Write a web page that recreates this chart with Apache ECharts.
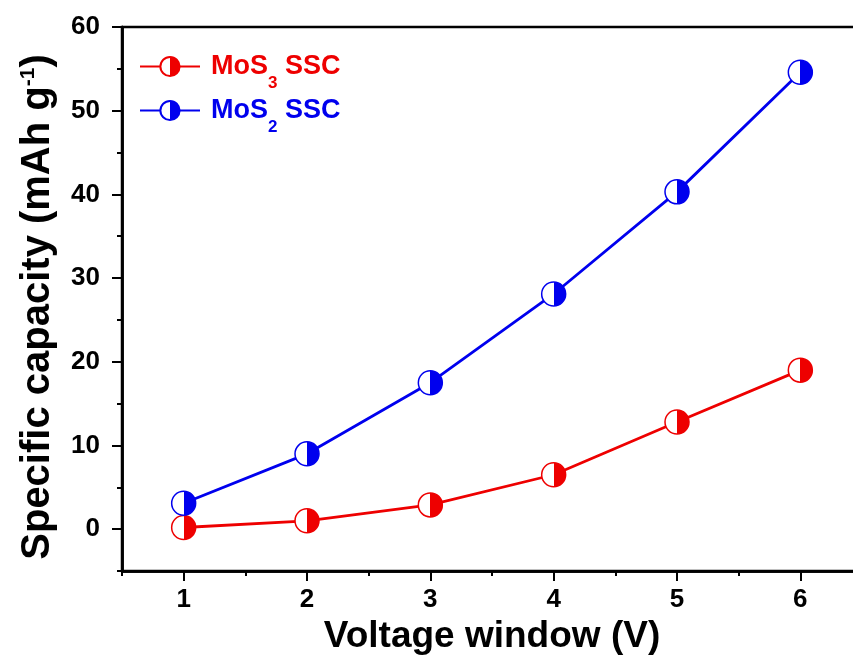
<!DOCTYPE html>
<html>
<head>
<meta charset="utf-8">
<script src="https://cdn.jsdelivr.net/npm/echarts@6/dist/echarts.min.js"></script>
<style>
  html, body { margin: 0; padding: 0; background: #fff; }
  #chart { width: 853px; height: 662px; }
</style>
</head>
<body>
<div id="chart"></div>
<script>
const voltage = [1, 2, 3, 4, 5, 6];
const mos3 = [0.2, 1.0, 2.9, 6.5, 12.8, 19.0];
const mos2 = [3.1, 9.0, 17.5, 28.1, 40.3, 54.6];
const yMajor = [0, 10, 20, 30, 40, 50, 60];
const yMinor = [-5, 5, 15, 25, 35, 45, 55];
const xMajor = [1, 2, 3, 4, 5, 6];
const xMinor = [0.5, 1.5, 2.5, 3.5, 4.5, 5.5, 6.5];

const RED = '#ee0000';
const BLUE = '#0000ee';
const FONT = 'Arial, "Liberation Sans", sans-serif';

// half-white / half-filled circle marker
const halfFill = c => ({
  type: 'linear', x: 0, y: 0, x2: 1, y2: 0,
  colorStops: [
    { offset: 0, color: '#fff' },
    { offset: 0.5, color: '#fff' },
    { offset: 0.5, color: c },
    { offset: 1, color: c },
  ],
});

const axisCommon = {
  axisLine: { show: true, onZero: false, lineStyle: { color: '#000', width: 2.5 } },
  splitLine: { show: false },
};

const chart = echarts.init(document.getElementById('chart'), null, { renderer: 'canvas' });
chart.setOption({
  animation: false,
  textStyle: { fontFamily: FONT },
  grid: {
    left: 122, top: 27, right: -9, bottom: 91,
    containLabel: false, outerBoundsMode: 'none',
    show: true, borderColor: '#000', borderWidth: 2.5,
  },
  legend: {
    orient: 'vertical',
    left: 134, top: 48,
    itemWidth: 60, itemHeight: 24, itemGap: 5,
    data: ['MoS3 SSC', 'MoS2 SSC'],
    formatter: name => name === 'MoS3 SSC'
      ? '{r|MoS}{rs|3}{r| SSC}'
      : '{b|MoS}{bs|2}{b| SSC}',
    textStyle: {
      fontFamily: FONT,
      padding: [0, 0, 0, 6],
      rich: {
        r: { color: RED, fontSize: 27, fontWeight: 'bold', fontFamily: FONT },
        rs: { color: RED, fontSize: 17, fontWeight: 'bold', fontFamily: FONT, verticalAlign: 'bottom', padding: [0, 0, -12, 0] },
        b: { color: BLUE, fontSize: 27, fontWeight: 'bold', fontFamily: FONT },
        bs: { color: BLUE, fontSize: 17, fontWeight: 'bold', fontFamily: FONT, verticalAlign: 'bottom', padding: [0, 0, -12, 0] },
      },
    },
  },
  xAxis: [
    Object.assign({}, axisCommon, {
      type: 'value', min: 0.5, max: 6.5,
      name: 'Voltage window (V)', nameLocation: 'middle', nameGap: 43,
      nameTextStyle: { fontSize: 37, fontWeight: 'bold', color: '#000', fontFamily: FONT },
      axisTick: { show: true, length: 10, lineStyle: { width: 2, color: '#000' }, customValues: xMajor },
      axisLabel: { customValues: xMajor, fontSize: 26, fontWeight: 'bold', color: '#000', margin: 16, fontFamily: FONT },
    }),
    Object.assign({}, axisCommon, {
      type: 'value', min: 0.5, max: 6.5, position: 'bottom', gridIndex: 0,
      axisTick: { show: true, length: 5, lineStyle: { width: 2, color: '#000' }, customValues: xMinor },
      axisLabel: { show: false },
    }),
  ],
  yAxis: [
    Object.assign({}, axisCommon, {
      type: 'value', min: -5, max: 60,
      name: '{n|Specific capacity (mAh g}{s|-1}{n|)}', nameLocation: 'middle', nameGap: 64,
      nameTextStyle: {
        padding: [0, 16, 0, 0],
        rich: {
          n: { fontSize: 40, fontWeight: 'bold', color: '#000', fontFamily: FONT },
          s: { fontSize: 21, fontWeight: 'bold', color: '#000', fontFamily: FONT, verticalAlign: 'top', padding: [0, 0, 17, 0] },
        },
      },
      axisTick: { show: true, length: 10, lineStyle: { width: 2, color: '#000' }, customValues: yMajor },
      axisLabel: { customValues: yMajor, fontSize: 26, fontWeight: 'bold', color: '#000', margin: 22, fontFamily: FONT },
    }),
    Object.assign({}, axisCommon, {
      type: 'value', min: -5, max: 60, position: 'left',
      axisTick: { show: true, length: 5, lineStyle: { width: 2, color: '#000' }, customValues: yMinor },
      axisLabel: { show: false },
    }),
  ],
  series: [
    {
      name: 'MoS3 SSC', type: 'line',
      data: voltage.map((v, i) => [v, mos3[i]]),
      color: RED,
      symbol: 'circle', symbolSize: 24,
      lineStyle: { color: RED, width: 2.8 },
      itemStyle: { color: halfFill(RED), borderColor: RED, borderWidth: 1.5 },
    },
    {
      name: 'MoS2 SSC', type: 'line',
      data: voltage.map((v, i) => [v, mos2[i]]),
      color: BLUE,
      symbol: 'circle', symbolSize: 24,
      lineStyle: { color: BLUE, width: 2.8 },
      itemStyle: { color: halfFill(BLUE), borderColor: BLUE, borderWidth: 1.5 },
    },
  ],
});
window.addEventListener('resize', chart.resize);
</script>
</body>
</html>
